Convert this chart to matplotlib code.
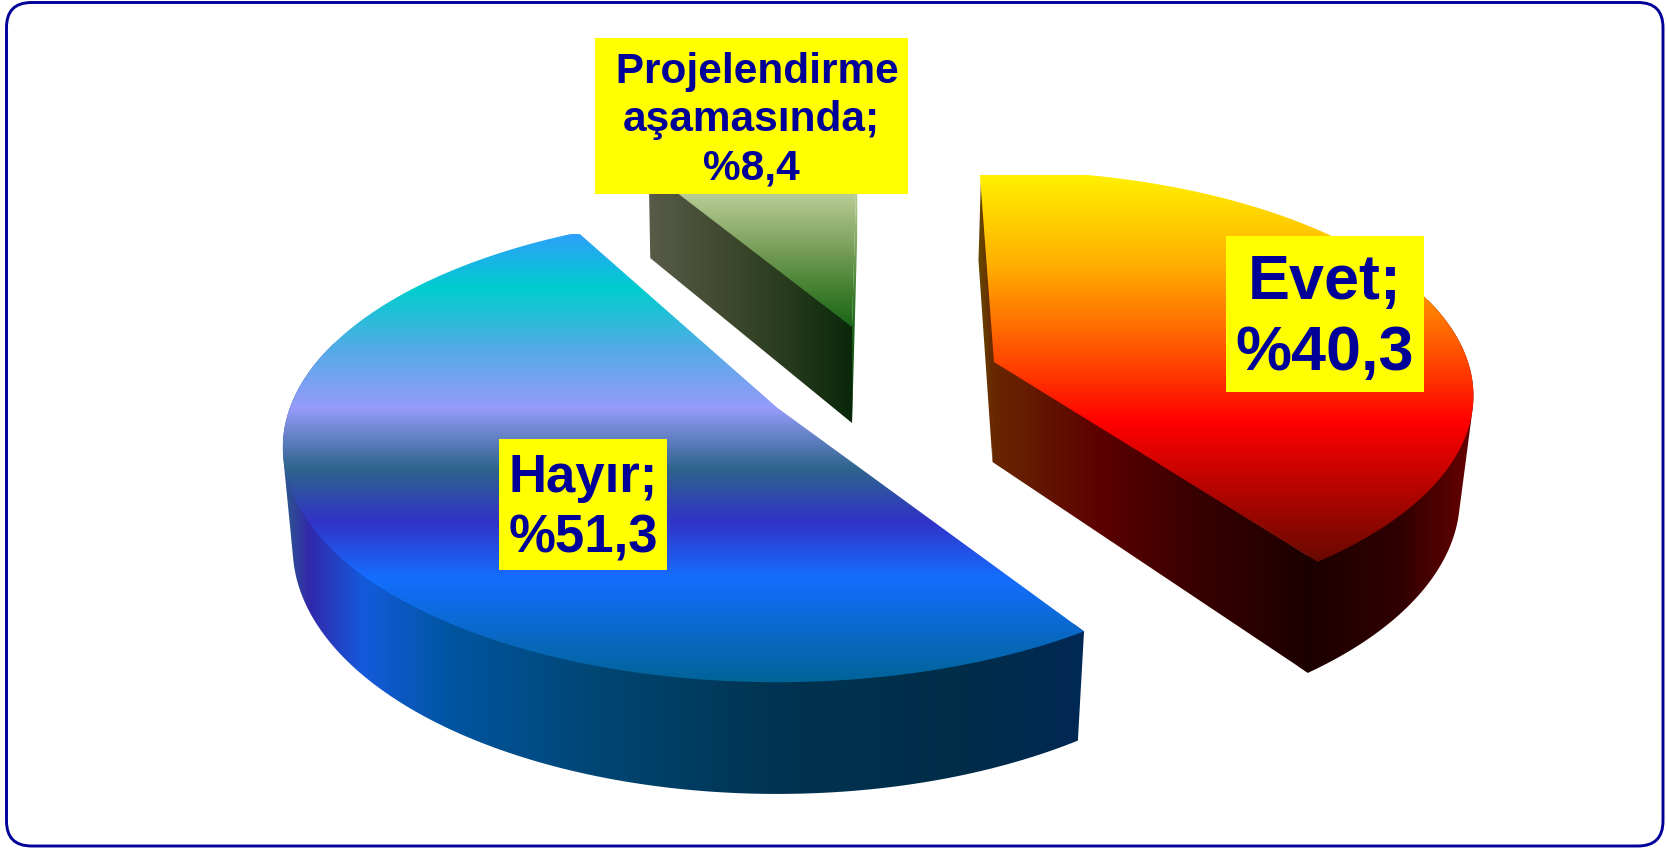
import numpy as np
import matplotlib
matplotlib.use("Agg")
import matplotlib.pyplot as plt
from matplotlib.colors import LinearSegmentedColormap
from matplotlib.patches import Polygon, Rectangle, FancyBboxPatch

# ---- data ----
labels = ["Evet", "Hayır", " Projelendirme\naşamasında"]
values = [40.3, 51.3, 8.4]
start_angles = [-2.0, 147.3, 330.5]   # clockwise from the back of the pie

W, H = 1666, 849
NAVY = "#000099"
plt.rcParams["font.family"] = ["Liberation Sans", "DejaVu Sans"]

fig = plt.figure(figsize=(W / 100, H / 100), dpi=100, facecolor="white")
ax = fig.add_axes([0, 0, 1, 1])
ax.set_xlim(0, W)
ax.set_ylim(H, 0)
ax.axis("off")
ax.set_autoscale_on(False)

ax.add_patch(FancyBboxPatch((6.5, 2.5), 1656.5, 843.5, boxstyle="round,pad=0,rounding_size=25",
                            fc="white", ec=NAVY, lw=2.1, zorder=0))

def rgb(*c):
    return tuple(v / 255 for v in c)

def grad(poly, stops, vertical, z):
    """Fill a polygon with a linear colour ramp; stops are (pixel position, colour)."""
    pos = np.array([s[0] for s in stops], float)
    lo, hi = pos[0], pos[-1]
    cmap = LinearSegmentedColormap.from_list(
        "g", [((p - lo) / (hi - lo), rgb(*s[1])) for p, s in zip(pos, stops)], N=1024)
    ramp = np.linspace(0, 1, 1024)
    if vertical:
        arr, ext = ramp[:, None], (0, W, hi, lo)
    else:
        arr, ext = ramp[None, :], (lo, hi, H, 0)
    im = ax.imshow(arr, cmap=cmap, vmin=0, vmax=1, extent=ext, aspect="auto",
                   origin="upper", zorder=z, interpolation="bilinear")
    im.set_clip_path(Polygon(poly, closed=True, transform=ax.transData))

def hull(pts):
    """Convex outline of a point set (monotone chain)."""
    P = sorted(set(map(tuple, np.round(pts, 3))))
    def half(seq):
        out = []
        for p in seq:
            while len(out) >= 2 and ((out[-1][0] - out[-2][0]) * (p[1] - out[-2][1])
                                     - (out[-1][1] - out[-2][1]) * (p[0] - out[-2][0])) <= 0:
                out.pop()
            out.append(p)
        return out[:-1]
    return np.array(half(P) + half(P[::-1]))

slices = [
    dict(apex=(994, 362), base=(992.5, 462), a=474, b=220, k=0.15, sx=0.975, m=0.055, d=100,
         top=[(175, (255, 240, 0)), (265, (255, 175, 0)), (362, (255, 70, 0)), (422, (255, 0, 0)),
              (500, (170, 5, 0)), (565, (100, 10, 0))],
         wall=[(975, (100, 80, 0)), (992, (105, 40, 0)), (1100, (92, 0, 0)), (1200, (55, 0, 0)),
               (1310, (28, 0, 0)), (1400, (48, 0, 0)), (1475, (105, 0, 0))],
         radial=True, end_top=False, tuck=((1.5, 0), (1.5, 2.5))),
    dict(apex=(777, 407.5), base=(777, 505.5), a=487, b=228, k=0.17, sx=0.98, m=0.05, d=98,
         top=[(234, (45, 160, 250)), (289, (0, 205, 205)), (350, (85, 170, 230)), (408, (150, 155, 250)),
              (469, (45, 100, 140)), (522, (50, 50, 200)), (578, (20, 110, 255)), (684, (0, 100, 150))],
         wall=[(283, (45, 90, 140)), (309, (50, 40, 170)), (363, (20, 90, 220)), (450, (0, 85, 160)),
               (600, (0, 70, 115)), (770, (0, 52, 82)), (957, (0, 45, 72)), (1085, (0, 40, 85))],
         radial=False, end_top=False, tuck=((0, 0), (0, 0))),
    dict(apex=(852, 327), base=(852, 423), a=484, b=210, k=0.188, sx=0.985, m=0.05, d=96,
         top=[(150, (230, 235, 215)), (194, (185, 205, 150)), (253, (115, 155, 85)),
              (287, (70, 130, 50)), (327, (25, 100, 25)), (423, (10, 50, 10))],
         wall=[(648, (88, 92, 72)), (730, (62, 72, 45)), (790, (38, 58, 28)), (856, (8, 38, 8))],
         radial=True, end_top=True, tuck=((1.5, -1.5), (1.5, -1.5))),
]

def project(s, th):
    t = np.radians(th)
    u, v = np.sin(t), np.cos(t)
    w = 1 + s["k"] * v
    return s["a"] * u / w, -s["b"] * v / w

def draw_slice(s, start, value, z):
    span = value / sum(values) * 360.0
    th = np.linspace(start, start + span, 400)
    dx, dy = project(s, th)
    ax0, ay0 = s["apex"]
    bx0 = s["base"][0]
    top_arc = np.column_stack([ax0 + dx, ay0 + dy])
    bot_arc = np.column_stack([bx0 + s["sx"] * dx, ay0 + s["d"] + dy * (1 + s["m"])])
    apex_top = np.array([[ax0, ay0]])
    apex_bot = np.array([[bx0, ay0 + s["d"]]])
    # outer wall: only the part that faces the viewer; it runs a little under the radial wall
    front = np.cos(np.radians(th)) <= 0.3
    if front.sum() > 2:
        t_f, b_f = top_arc[front], bot_arc[front]
        under = np.vstack([t_f[[0, -1]] + 0.03 * (apex_top - t_f[[0, -1]]),
                           b_f[[0, -1]] + 0.03 * (apex_bot - b_f[[0, -1]])])
        grad(hull(np.vstack([t_f, b_f, under])), s["wall"], False, z)
    if s["radial"]:
        # radial walls, their top edges tucked under the top face
        t0, t1 = s["tuck"]
        start_poly = np.vstack([apex_top + t0, top_arc[:1] + t1, bot_arc[:1], apex_bot])
        grad(start_poly, s["wall"], False, z + 0.1)
        if s["end_top"]:
            end_poly = np.vstack([apex_top, top_arc[-1:], bot_arc[-1:], apex_bot])
            grad(end_poly, s["top"], True, z + 0.1)
        else:
            end_poly = np.vstack([apex_top + (0, -1.5), top_arc[-1:] + (-2, -1.5), bot_arc[-1:], apex_bot])
            grad(end_poly, s["wall"], False, z + 0.1)
    # top face
    grad(np.vstack([apex_top, top_arc]), s["top"], True, z + 0.2)

for s, st, v, z in zip(slices, start_angles, values, [3, 2, 1]):
    draw_slice(s, st, v, z)

# ---- data labels ----
boxes = [(1226, 236, 1424, 392), (499, 439, 667, 570), (595, 38, 908, 194)]
sizes = [45.3, 38, 30.5]
spacing = [1.26, 1.27, 1.27]
for lab, v, (x0, y0, x1, y1), fs, ls in zip(labels, values, boxes, sizes, spacing):
    ax.add_patch(Rectangle((x0, y0), x1 - x0, y1 - y0, fc="#ffff00", ec="none", zorder=6))
    txt = f"{lab};\n%{v:.1f}".replace(".", ",")
    ax.text((x0 + x1) / 2, (y0 + y1) / 2 + 4, txt, ha="center", va="center", ma="center",
            fontsize=fs, fontweight="bold", color=NAVY, linespacing=ls, zorder=7)

fig.savefig("out.png", dpi=100, facecolor="white")
